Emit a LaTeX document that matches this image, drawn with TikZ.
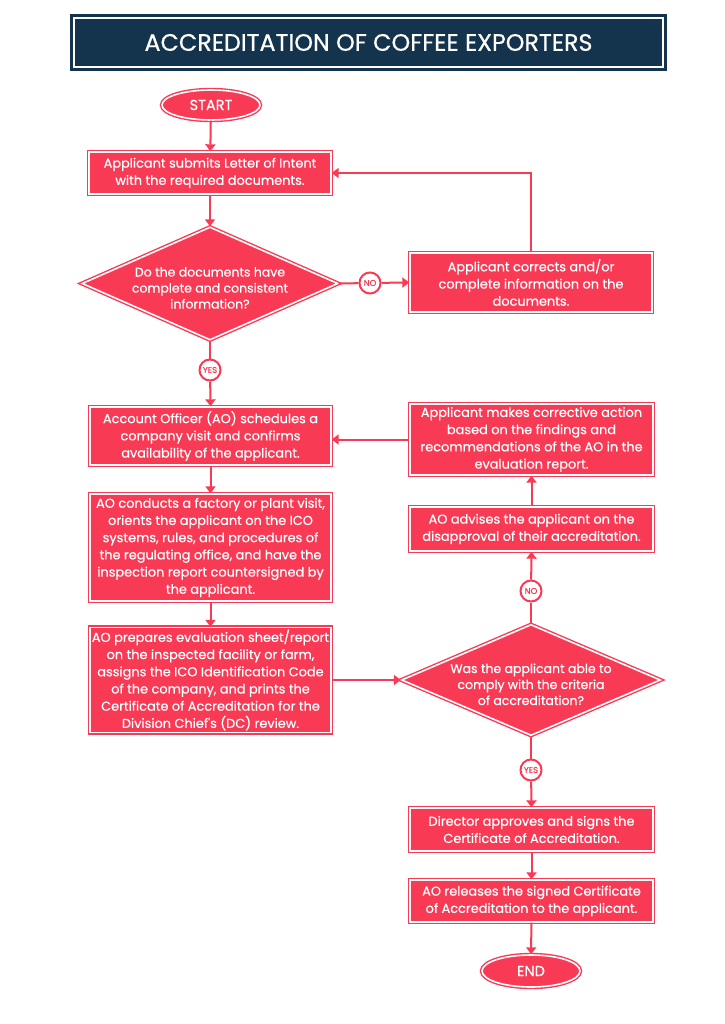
\documentclass[tikz,border=0pt]{standalone}
\usepackage{fontspec}
\setmainfont{Poppins}
\newfontfamily\boxfont{Poppins}[FakeBold=0.6]
\usetikzlibrary{shapes.geometric,arrows.meta}
\definecolor{flowred}{HTML}{F93A55}
\definecolor{titlenavy}{HTML}{14334D}
\begin{document}
\begin{tikzpicture}[x=1pt, y=-1pt,
    box/.style={draw=flowred, fill=flowred, double=white, double distance=1.6pt, line width=1.4pt, text=white, align=center, inner sep=0pt, font=\boxfont\fontsize{12.9}{17.2}\selectfont},
    terminal/.style={box, ellipse, minimum width=98, minimum height=30, font=\boxfont\fontsize{14.5}{14.5}\selectfont},
    decision/.style={box, diamond, aspect=2.3, inner sep=-16pt, text height=50pt, text depth=0pt, font=\boxfont\fontsize{12.5}{16}\selectfont},
    answer/.style={circle, draw=flowred, fill=white, line width=2pt, text=flowred, minimum size=21, inner sep=0pt, font=\boxfont\fontsize{8.5}{8.5}\selectfont},
    link/.style={flowred, line width=2pt},
    arrow/.style={link, -{Triangle[width=10pt, length=7pt]}}]
    \useasboundingbox (0, 0) rectangle (724, 1024);
    \node[draw=titlenavy, fill=titlenavy, double=white, double distance=1.5pt, line width=3pt, minimum width=589, minimum height=49, text=white, font=\boxfont\fontsize{23.8}{24}\selectfont] (title) at (368.5, 42.5) {ACCREDITATION OF COFFEE EXPORTERS};
    \node[terminal] (start) at (211, 105) {START};
    \node[box, minimum width=242, minimum height=42] (letter) at (210, 173) {Applicant submits Letter of Intent\\with the required documents.};
    \node[decision, minimum width=256, minimum height=113] (docs) at (210, 283.5) {Do the documents have\\complete and consistent\\information?};
    \node[answer] (no1) at (370, 283) {NO};
    \node[box, minimum width=242, minimum height=59] (fixdocs) at (531, 282.5) {Applicant corrects and/or\\complete information on the\\documents.};
    \node[answer] (yes1) at (210, 370) {YES};
    \node[box, minimum width=241, minimum height=58] (schedule) at (210.5, 436) {Account Officer (AO) schedules a\\company visit and confirms\\availability of the applicant.};
    \node[box, minimum width=241, minimum height=107] (visit) at (210.5, 547.5) {AO conducts a factory or plant visit,\\orients the applicant on the ICO\\systems, rules, and procedures of\\the regulating office, and have the\\inspection report countersigned by\\the applicant.};
    \node[box, minimum width=241, minimum height=105] (prepare) at (210.5, 680) {AO prepares evaluation sheet/report\\on the inspected facility or farm,\\assigns the ICO Identification Code\\of the company, and prints the\\Certificate of Accreditation for the\\Division Chief's (DC) review.};
    \node[decision, minimum width=259, minimum height=111] (comply) at (531, 680) {Was the applicant able to\\comply with the criteria\\of accreditation?};
    \node[answer] (no2) at (531, 591) {NO};
    \node[box, minimum width=243, minimum height=44] (advise) at (531.5, 529) {AO advises the applicant on the\\disapproval of their accreditation.};
    \node[box, minimum width=243, minimum height=71] (corrective) at (531.5, 439.5) {Applicant makes corrective action\\based on the findings and\\recommendations of the AO in the\\evaluation report.};
    \node[answer] (yes2) at (531, 770) {YES};
    \node[box, minimum width=243, minimum height=43] (approve) at (531.5, 829.5) {Director approves and signs the\\Certificate of Accreditation.};
    \node[box, minimum width=243, minimum height=42] (release) at (531.5, 901) {AO releases the signed Certificate\\of Accreditation to the applicant.};
    \node[terminal, minimum height=32] (finish) at (531, 971) {END};
    \draw[arrow] (start) -- (letter);
    \draw[arrow] (letter) -- (docs);
    \draw[link] (docs.east) -- (no1);
    \draw[arrow] (no1) -- (fixdocs.west);
    \draw[arrow] (fixdocs.north) |- (letter.east);
    \draw[link] (docs.south) -- (yes1);
    \draw[arrow] (yes1) -- (schedule.north);
    \draw[arrow] (schedule) -- (visit);
    \draw[arrow] (visit) -- (prepare);
    \draw[arrow] (prepare.east) -- (comply.west);
    \draw[link] (comply.north) -- (no2);
    \draw[arrow] (no2) -- (advise.south);
    \draw[arrow] (advise) -- (corrective);
    \draw[arrow] (corrective.west) -- (schedule.east |- corrective.west);
    \draw[link] (comply.south) -- (yes2);
    \draw[arrow] (yes2) -- (approve.north);
    \draw[arrow] (approve) -- (release);
    \draw[arrow] (release) -- (finish);
\end{tikzpicture}
\end{document}
